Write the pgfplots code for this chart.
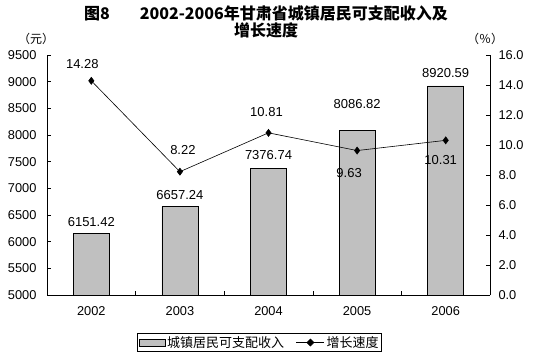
\documentclass[border=0pt]{standalone}
\usepackage{fontspec}
\setmainfont{Liberation Sans}
\newfontfamily\cjk{Noto Sans CJK SC}
\usepackage{pgfplots}
\pgfplotsset{compat=1.18}
\definecolor{barg}{RGB}{192,192,192}
\begin{document}
\begin{tikzpicture}[x=1pt,y=1pt]
\useasboundingbox (0,0) rectangle (534,359);
\node[align=center,font={\cjk\bfseries\fontsize{16}{17}\selectfont}] at (266,337.5)
  {图8\hspace{30pt}2002-2006年甘肃省城镇居民可支配收入及\\增长速度};
\node[font={\cjk\fontsize{12}{14}\selectfont}] at (36,320) {（元）};
\node[font={\cjk\fontsize{12}{14}\selectfont}] at (485,320) {（％）};
\begin{axis}[
  at={(47pt,64pt)}, anchor=south west, scale only axis,
  width=443pt, height=240pt,
  xmin=-0.5, xmax=4.5, ymin=5000, ymax=9500,
  ytick={5000,5500,...,9500},
  axis x line*=bottom, axis y line*=left,
  axis line style={-, black, line width=0.8pt},
  tick align=inside, major tick length=4pt,
  tick style={black, line width=0.6pt},
  xtick={0.5,1.5,2.5,3.5}, xticklabels={},
  extra x ticks={0,1,2,3,4},
  extra x tick labels={2002,2003,2004,2005,2006},
  extra x tick style={major tick length=0pt},
  xticklabel style={yshift=-8pt},
  yticklabel style={xshift=-7pt},
  /pgf/number format/assume math mode=true,
  /pgf/number format/1000 sep={},
  ticklabel style={font=\fontsize{12.8}{14}\selectfont},
  legend style={at={(0.48,-0.198)}, anchor=center, draw=black, line width=0.8pt,
    font={\cjk\fontsize{13}{14}\selectfont}, inner sep=1pt,
    /tikz/every even column/.append style={column sep=10pt}},
  legend columns=2,
  clip=false,
]
\addplot[ybar, bar width=36pt, fill=barg, draw=black, line width=0.6pt,
  nodes near coords, point meta=explicit symbolic,
  visualization depends on={\thisrow{dy}\as\dy},
  every node near coord/.append style={font=\fontsize{13}{14}\selectfont, black, anchor=center, yshift=\dy pt},
  legend image code/.code={\draw[fill=barg,draw=black,line width=0.6pt] (0pt,-3.5pt) rectangle (26pt,3.5pt);}]
  table[meta=lab]{
x y lab dy
0 6151.42 6151.42 12
1 6657.24 6657.24 12
2 7376.74 7376.74 13
3 8086.82 8086.82 26
4 8920.59 8920.59 13
};
\addlegendentry{城镇居民可支配收入}
\addlegendimage{black, line width=0.6pt,
  legend image code/.code={\draw[black,line width=0.6pt] (0pt,0pt) -- (28pt,0pt); \fill[black] (14pt,3.5pt) -- (17.5pt,0pt) -- (14pt,-3.5pt) -- (10.5pt,0pt) -- cycle;}}
\addlegendentry{增长速度}
\end{axis}
\begin{axis}[
  at={(47pt,64pt)}, anchor=south west, scale only axis,
  width=443pt, height=240pt,
  xmin=-0.5, xmax=4.5, ymin=0, ymax=16,
  ytick={0,2,...,16},
  axis x line=none, axis y line*=right,
  axis line style={-, black, line width=0.8pt},
  tick align=inside, major tick length=4pt,
  tick style={black, line width=0.6pt},
  yticklabel style={xshift=5pt, /pgf/number format/.cd, fixed, fixed zerofill, precision=1},
  /pgf/number format/assume math mode=true,
  ticklabel style={font=\fontsize{12.8}{14}\selectfont},
  clip=false,
]
\addplot[black, line width=0.6pt, mark=diamond*, mark size=3.5pt,
  nodes near coords, point meta=explicit symbolic,
  visualization depends on={\thisrow{dx}\as\dx},
  visualization depends on={\thisrow{dy}\as\dy},
  every node near coord/.append style={font=\fontsize{13}{14}\selectfont, black, anchor=center, xshift=\dx pt, yshift=\dy pt}]
  table[meta=lab]{
x y lab dx dy
0 14.28 14.28 -9 17
1 8.22 8.22 3 22
2 10.81 10.81 -2 21
3 9.63 9.63 -8 -22
4 10.31 10.31 -5 -20
};
\end{axis}
\end{tikzpicture}
\end{document}
